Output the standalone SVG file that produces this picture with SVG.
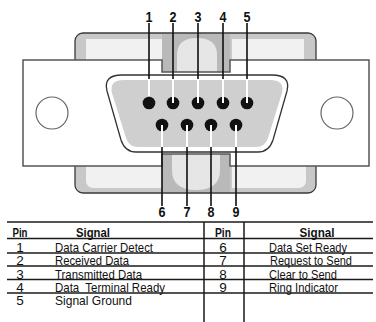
<svg xmlns="http://www.w3.org/2000/svg" width="376" height="322" viewBox="0 0 376 322">
<style>
.ol{stroke:#3a3a3a;stroke-width:1.3;}
.band{fill:#c8c8c8;}
.lite{fill:#f1f1f1;}
.mid{fill:#b9b9b9;}
.arch{fill:#e6e6e6;}
.pin{fill:#111;}
.blk{stroke:#111;stroke-width:1.6;fill:none;}
.wht{stroke:#fff;stroke-width:2;fill:none;}
.num{font-family:"Liberation Sans",Arial,sans-serif;font-weight:bold;font-size:14px;fill:#111;text-anchor:middle;}
.hd{font-family:"Liberation Sans",Arial,sans-serif;font-weight:bold;font-size:13.5px;fill:#111;text-anchor:middle;}
.tx{font-family:"Liberation Sans",Arial,sans-serif;font-size:13.5px;fill:#111;}
.dg{font-family:"Liberation Sans",Arial,sans-serif;font-size:13.5px;fill:#111;text-anchor:middle;}
.tl{stroke:#1a1a1a;stroke-width:1.5;}
</style>
<rect width="376" height="322" fill="#fff"/>
<g id="connector">
  <g id="top-tab">
    <rect class="band ol" x="75" y="33" width="241" height="40" rx="8"/>
    <rect class="lite" x="86" y="39" width="76" height="23"/>
    <rect class="lite" x="232" y="39" width="72" height="23"/>
    <rect class="mid" x="162" y="34" width="68" height="38"/>
    <path class="arch" d="M177,72 L177,55 Q177,38 197,38 Q217,38 217,55 L217,72 Z"/>
  </g>
  <g id="bottom-tab">
    <rect class="band ol" x="75" y="150" width="241" height="43" rx="8"/>
    <path class="lite" d="M86,165 L162,165 L162,188 L94,188 Q86,188 86,180 Z"/>
    <path class="lite" d="M232,165 L306,165 L306,180 Q306,188 298,188 L232,188 Z"/>
    <rect class="mid" x="162" y="152" width="68" height="40"/>
    <path class="arch" d="M172,153 L172,170 Q172,190 196,190 Q220,190 220,170 L220,153 Z"/>
  </g>
  <g id="plate">
    <path d="M23,60 L162,60 L162,72 L230,72 L230,60 L369,60 L369,166 L230,166 L230,154 L162,154 L162,166 L23,166 Z" fill="#fff" stroke="#555" stroke-width="1.5"/>
    <circle cx="52" cy="113" r="16" fill="#fff" stroke="#666" stroke-width="1.2"/>
    <circle cx="337" cy="113" r="16" fill="#fff" stroke="#666" stroke-width="1.2"/>
  </g>
  <g id="shell">
    <path d="M122,75 L272,75 Q291,75 287,91 L273,140 Q269,152 258,152 L136,152 Q125,152 121,140 L107,91 Q103,75 122,75 Z" fill="#fff" stroke="#333" stroke-width="1.3"/>
    <path d="M124,80 L270,80 Q285,80 282,93 L268,138 Q265,147 256,147 L138,147 Q129,147 126,138 L112,93 Q109,80 124,80 Z" fill="#cfcfcf"/>
  </g>
</g>
<g id="connectors">
  <path class="blk" d="M149,23V79 M173,23V79 M198,23V79 M223,23V79 M247,23V79"/>
  <path class="blk" d="M162,147V206 M187,147V206 M211,147V206 M236,147V206"/>
</g>
<g id="pins">
  <circle class="pin" cx="149" cy="103" r="6.3"/>
  <circle class="pin" cx="173" cy="103" r="6.3"/>
  <circle class="pin" cx="198" cy="103" r="6.3"/>
  <circle class="pin" cx="223" cy="103" r="6.3"/>
  <circle class="pin" cx="247" cy="103" r="6.3"/>
  <circle class="pin" cx="162" cy="125" r="6.3"/>
  <circle class="pin" cx="187" cy="125" r="6.3"/>
  <circle class="pin" cx="211" cy="125" r="6.3"/>
  <circle class="pin" cx="236" cy="125" r="6.3"/>
  <path class="wht" d="M149,79V96 M173,79V103 M198,79V103 M223,79V103 M247,79V103"/>
  <path class="wht" d="M162,125V147 M187,125V147 M211,125V147 M236,125V147"/>
</g>
<g id="pin-labels">
  <text class="num" x="149" y="22" textLength="7" lengthAdjust="spacingAndGlyphs">1</text>
  <text class="num" x="173" y="22" textLength="7" lengthAdjust="spacingAndGlyphs">2</text>
  <text class="num" x="198" y="22" textLength="7" lengthAdjust="spacingAndGlyphs">3</text>
  <text class="num" x="223" y="22" textLength="7" lengthAdjust="spacingAndGlyphs">4</text>
  <text class="num" x="247" y="22" textLength="7" lengthAdjust="spacingAndGlyphs">5</text>
  <text class="num" x="162" y="217" textLength="7" lengthAdjust="spacingAndGlyphs">6</text>
  <text class="num" x="187" y="217" textLength="7" lengthAdjust="spacingAndGlyphs">7</text>
  <text class="num" x="211" y="217" textLength="7" lengthAdjust="spacingAndGlyphs">8</text>
  <text class="num" x="236" y="217" textLength="7" lengthAdjust="spacingAndGlyphs">9</text>
</g>
<g id="table">
  <line class="tl" x1="7" y1="222" x2="373" y2="222" stroke-width="2"/>
  <line class="tl" x1="7" y1="238.5" x2="373" y2="238.5"/>
  <line class="tl" x1="7" y1="253" x2="373" y2="253"/>
  <line class="tl" x1="7" y1="266" x2="373" y2="266"/>
  <line class="tl" x1="7" y1="279.5" x2="373" y2="279.5"/>
  <line class="tl" x1="7" y1="293" x2="373" y2="293"/>
  <line class="tl" x1="204" y1="222" x2="204" y2="322" stroke-width="1.8"/>
  <line class="tl" x1="244" y1="222" x2="244" y2="322" stroke-width="1.8"/>
  <text class="hd" x="20" y="237" textLength="15" lengthAdjust="spacingAndGlyphs">Pin</text>
  <text class="hd" x="93" y="237" textLength="34" lengthAdjust="spacingAndGlyphs">Signal</text>
  <text class="hd" x="223" y="237" textLength="16" lengthAdjust="spacingAndGlyphs">Pin</text>
  <text class="hd" x="317" y="237" textLength="35" lengthAdjust="spacingAndGlyphs">Signal</text>
  <text class="dg" x="20" y="252">1</text>
  <text class="dg" x="20" y="265">2</text>
  <text class="dg" x="20" y="278.5">3</text>
  <text class="dg" x="20" y="292">4</text>
  <text class="dg" x="20" y="305">5</text>
  <text class="tx" x="55" y="252" textLength="98" lengthAdjust="spacingAndGlyphs">Data Carrier Detect</text>
  <text class="tx" x="55" y="265" textLength="74" lengthAdjust="spacingAndGlyphs">Received Data</text>
  <text class="tx" x="55" y="278.5" textLength="87" lengthAdjust="spacingAndGlyphs">Transmitted Data</text>
  <text class="tx" x="55" y="292" textLength="110" lengthAdjust="spacingAndGlyphs" style="white-space:pre">Data  Terminal Ready</text>
  <text class="tx" x="55" y="305" textLength="77" lengthAdjust="spacingAndGlyphs">Signal Ground</text>
  <text class="dg" x="223" y="252">6</text>
  <text class="dg" x="223" y="265">7</text>
  <text class="dg" x="223" y="278.5">8</text>
  <text class="dg" x="223" y="292">9</text>
  <text class="tx" x="269" y="252" textLength="78" lengthAdjust="spacingAndGlyphs">Data Set Ready</text>
  <text class="tx" x="270" y="265" textLength="82" lengthAdjust="spacingAndGlyphs">Request to Send</text>
  <text class="tx" x="269" y="278.5" textLength="68" lengthAdjust="spacingAndGlyphs">Clear to Send</text>
  <text class="tx" x="269" y="292" textLength="69" lengthAdjust="spacingAndGlyphs">Ring Indicator</text>
</g>
</svg>
